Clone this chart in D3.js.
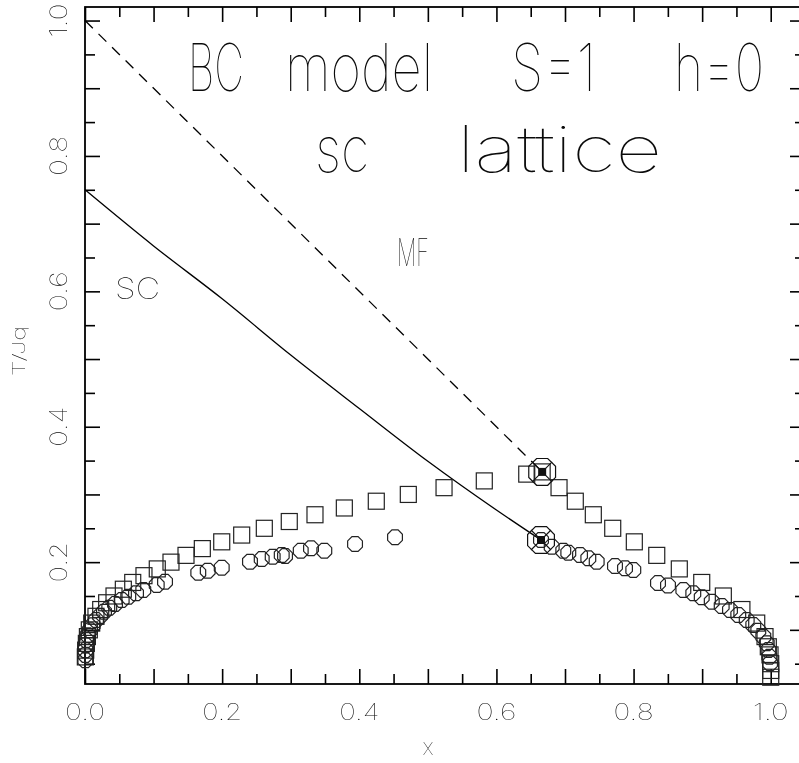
<!DOCTYPE html>
<html><head><meta charset="utf-8">
<script src="https://cdn.jsdelivr.net/npm/d3@7"></script>
<style>body{margin:0;background:#fff} svg{filter:grayscale(100%)}</style>
</head><body><svg id="c" width="799" height="763"></svg>
<script>
// ---- data ----
const squareX = [0.0005,0.001,0.002,0.0035,0.0063,0.0098,0.016,0.0229,0.0316,0.0423,0.0559,0.0696,0.086,0.1054,0.1254,0.1473,0.1711,0.1994,0.2285,0.2615,0.2979,0.3354,0.3782,0.4248,0.4715,0.5236,0.5823,0.6442,0.6667,
  0.6913,0.715,0.7413,0.7696,0.8011,0.8338,0.8667,0.8994,0.9309,0.958,0.9796,0.9917,0.9965,0.999,1.0,1.0,1.0];
const squareT = [0.06,0.07,0.08,0.09,0.10,0.11,0.12,0.13,0.14,0.15,0.16,0.17,0.18,0.19,0.20,0.21,0.22,0.23,0.24,0.25,0.26,0.27,0.28,0.29,0.30,0.31,0.32,0.33,0.3333,
  0.31,0.29,0.27,0.25,0.23,0.21,0.19,0.17,0.15,0.13,0.11,0.09,0.075,0.063,0.05,0.04,0.03];
const circleX = [0.0005,0.0005,0.0005,0.0008,0.0015,0.0039,0.0073,0.0112,0.016,0.0219,0.0277,0.0354,0.0438,0.0535,0.0631,0.0744,0.085,0.1046,0.1167,0.1652,0.179,0.1994,0.2406,0.2577,0.2737,0.2869,0.2917,0.3146,0.3296,0.349,0.3938,0.4521,0.665,
  0.6806,0.6975,0.7048,0.7219,0.734,0.7462,0.7729,0.7875,0.7996,0.8356,0.8502,0.8726,0.8871,0.8994,0.914,0.9285,0.9406,0.9527,0.965,0.9746,0.9819,0.9892,0.9942,0.9965,0.998,0.999];
const circleT = [0.055,0.063,0.070,0.0773,0.085,0.0921,0.0995,0.1069,0.1146,0.1205,0.1268,0.1327,0.1383,0.1442,0.149,0.154,0.1588,0.1662,0.1711,0.1844,0.1874,0.1918,0.2007,0.2046,0.208,0.2105,0.2091,0.2169,0.2205,0.2169,0.2268,0.2367,0.2327,
  0.2228,0.2169,0.2139,0.2106,0.2057,0.2007,0.1943,0.1909,0.1884,0.1692,0.1655,0.1588,0.154,0.1481,0.1416,0.1352,0.1293,0.122,0.1146,0.1072,0.0987,0.0899,0.0801,0.0702,0.0603,0.0506];
const scLineX = [0, 0.1, 0.2, 0.3, 0.4, 0.5, 0.6, 0.665];
const scLineT = [0.75, 0.667, 0.589, 0.506, 0.427, 0.349, 0.277, 0.2327];
const mfLineX = [0, 0.6667];
const mfLineT = [1.0, 0.3333];
const criticalX = [0.6667, 0.665];
const criticalT = [0.3333, 0.2327];
const xTickLabels = ["0.0","0.2","0.4","0.6","0.8","1.0"];
const yTickLabels = ["0.2","0.4","0.6","0.8","1.0"];
const xLabel = "X";
const yLabel = "T/Jq";
const titleLine1 = ["BC","model","S=1","h=0"];
const titleLine2 = ["sc","lattice"];
const curveLabels = ["MF","SC"];

// ---- drawing ----
const FONT = "Inter, 'DejaVu Sans', sans-serif";
const W = 100;
const TXT = "#0a0a0a";
const svg = d3.select("#c");
const x = d3.scaleLinear().domain([0, 1.05]).range([85, 805]);
const y = d3.scaleLinear().domain([0.02, 1.02]).range([684, 7]);

const allTicks = d3.range(0, 22).map(i => +(i * 0.05).toFixed(2));
const majorX = allTicks.filter((d, i) => i % 2 === 0);
const minorX = allTicks.filter((d, i) => i % 2 === 1);
const majorY = majorX.filter(d => d > 0.02 && d < 1.02);
const minorY = minorX.filter(d => d > 0.02 && d < 1.02);

function styleTicks(g) {
  g.select(".domain").remove();
  g.selectAll(".tick line").attr("stroke", "#000").attr("stroke-width", 1.6);
}
const axes = [
  [d3.axisBottom, "translate(0,684)", x, majorX, minorX],
  [d3.axisTop, "translate(0,7)", x, majorX, minorX],
  [d3.axisLeft, "translate(85,0)", y, majorY, minorY],
  [d3.axisRight, "translate(805,0)", y, majorY, minorY]
];
axes.forEach(([fn, tr, sc, maj, mnr]) => {
  svg.append("g").attr("transform", tr).call(fn(sc).tickValues(maj).tickSize(-15).tickFormat("")).call(styleTicks);
  svg.append("g").attr("transform", tr).call(fn(sc).tickValues(mnr).tickSize(-10).tickFormat("")).call(styleTicks);
});
svg.append("rect").attr("x", 85).attr("y", 7).attr("width", 720).attr("height", 677)
  .attr("fill", "none").attr("stroke", "#000").attr("stroke-width", 1.8);

function txt(sel, size) {
  return sel.attr("font-family", FONT).attr("font-weight", W).attr("font-size", size).attr("fill", TXT)
    .attr("lengthAdjust", "spacingAndGlyphs");
}

// tick labels
svg.append("g").selectAll("text").data(xTickLabels).join("text")
  .attr("x", d => x(+d)).attr("y", 720).attr("text-anchor", "middle")
  .call(txt, 23).attr("textLength", d => d === "1.0" ? 36 : 40).text(d => d);
svg.append("g").selectAll("text").data(yTickLabels).join("text")
  .attr("transform", d => `translate(67,${y(+d)}) rotate(-90)`).attr("text-anchor", "middle")
  .call(txt, 24).attr("textLength", d => d === "1.0" ? 34 : 40).text(d => d);

// axis titles
svg.append("text").attr("x", 428).attr("y", 755).attr("text-anchor", "middle").call(txt, 17).text(xLabel);
svg.append("text").attr("transform", "translate(25,351) rotate(-90)").attr("text-anchor", "middle")
  .call(txt, 17).attr("textLength", 50).text(yLabel);

// title
const t1pos = [[188, 56], [285, 148], [511, 85], [674, 90]];
titleLine1.forEach((w, i) => svg.append("text").attr("x", t1pos[i][0]).attr("y", 91)
  .call(txt, 66).attr("textLength", t1pos[i][1]).text(w));
const t2pos = [[315, 54], [457, 205]];
titleLine2.forEach((w, i) => svg.append("text").attr("x", t2pos[i][0]).attr("y", 172)
  .call(txt, 64).attr("textLength", t2pos[i][1]).text(w));

// curve labels
svg.append("text").attr("x", 397).attr("y", 266).call(txt, 38).attr("textLength", 32).text(curveLabels[0]);
svg.append("text").attr("x", 115).attr("y", 299).call(txt, 29).attr("textLength", 45).text(curveLabels[1]);

// lines
const line = d3.line().x(d => x(d[0])).y(d => y(d[1])).curve(d3.curveMonotoneX);
svg.append("path").attr("d", line(scLineX.map((v, i) => [v, scLineT[i]])))
  .attr("fill", "none").attr("stroke", "#000").attr("stroke-width", 1.3);
svg.append("path").attr("d", line(mfLineX.map((v, i) => [v, mfLineT[i]])))
  .attr("fill", "none").attr("stroke", "#000").attr("stroke-width", 1.3).attr("stroke-dasharray", "11,8");

// markers
function octagon(r) {
  const pts = d3.range(8).map(k => { const a = Math.PI / 8 + k * Math.PI / 4; return [r * Math.cos(a), r * Math.sin(a)]; });
  return "M" + pts.map(p => p.join(",")).join("L") + "Z";
}
svg.append("g").selectAll("path").data(circleX.map((v, i) => [v, circleT[i]])).join("path")
  .attr("d", octagon(8)).attr("transform", d => `translate(${x(d[0])},${y(d[1])})`)
  .attr("fill", "none").attr("stroke", "#222").attr("stroke-width", 1.2);
svg.append("g").selectAll("rect").data(squareX.map((v, i) => [v, squareT[i]])).join("rect")
  .attr("x", d => x(d[0]) - 8).attr("y", d => y(d[1]) - 8).attr("width", 16).attr("height", 16)
  .attr("fill", "none").attr("stroke", "#222").attr("stroke-width", 1.2);

// critical points
const crit = svg.append("g").selectAll("g").data(criticalX.map((v, i) => [v, criticalT[i]])).join("g")
  .attr("transform", d => `translate(${x(d[0])},${y(d[1])})`);
crit.append("path").attr("d", octagon(14.5)).attr("fill", "none").attr("stroke", "#111").attr("stroke-width", 1.2);
crit.append("path").attr("d", "M-10,-10L10,10M-10,10L10,-10").attr("stroke", "#111").attr("stroke-width", 1.1);
crit.append("rect").attr("x", -4).attr("y", -4).attr("width", 8).attr("height", 8).attr("fill", "#111");
</script></body></html>
